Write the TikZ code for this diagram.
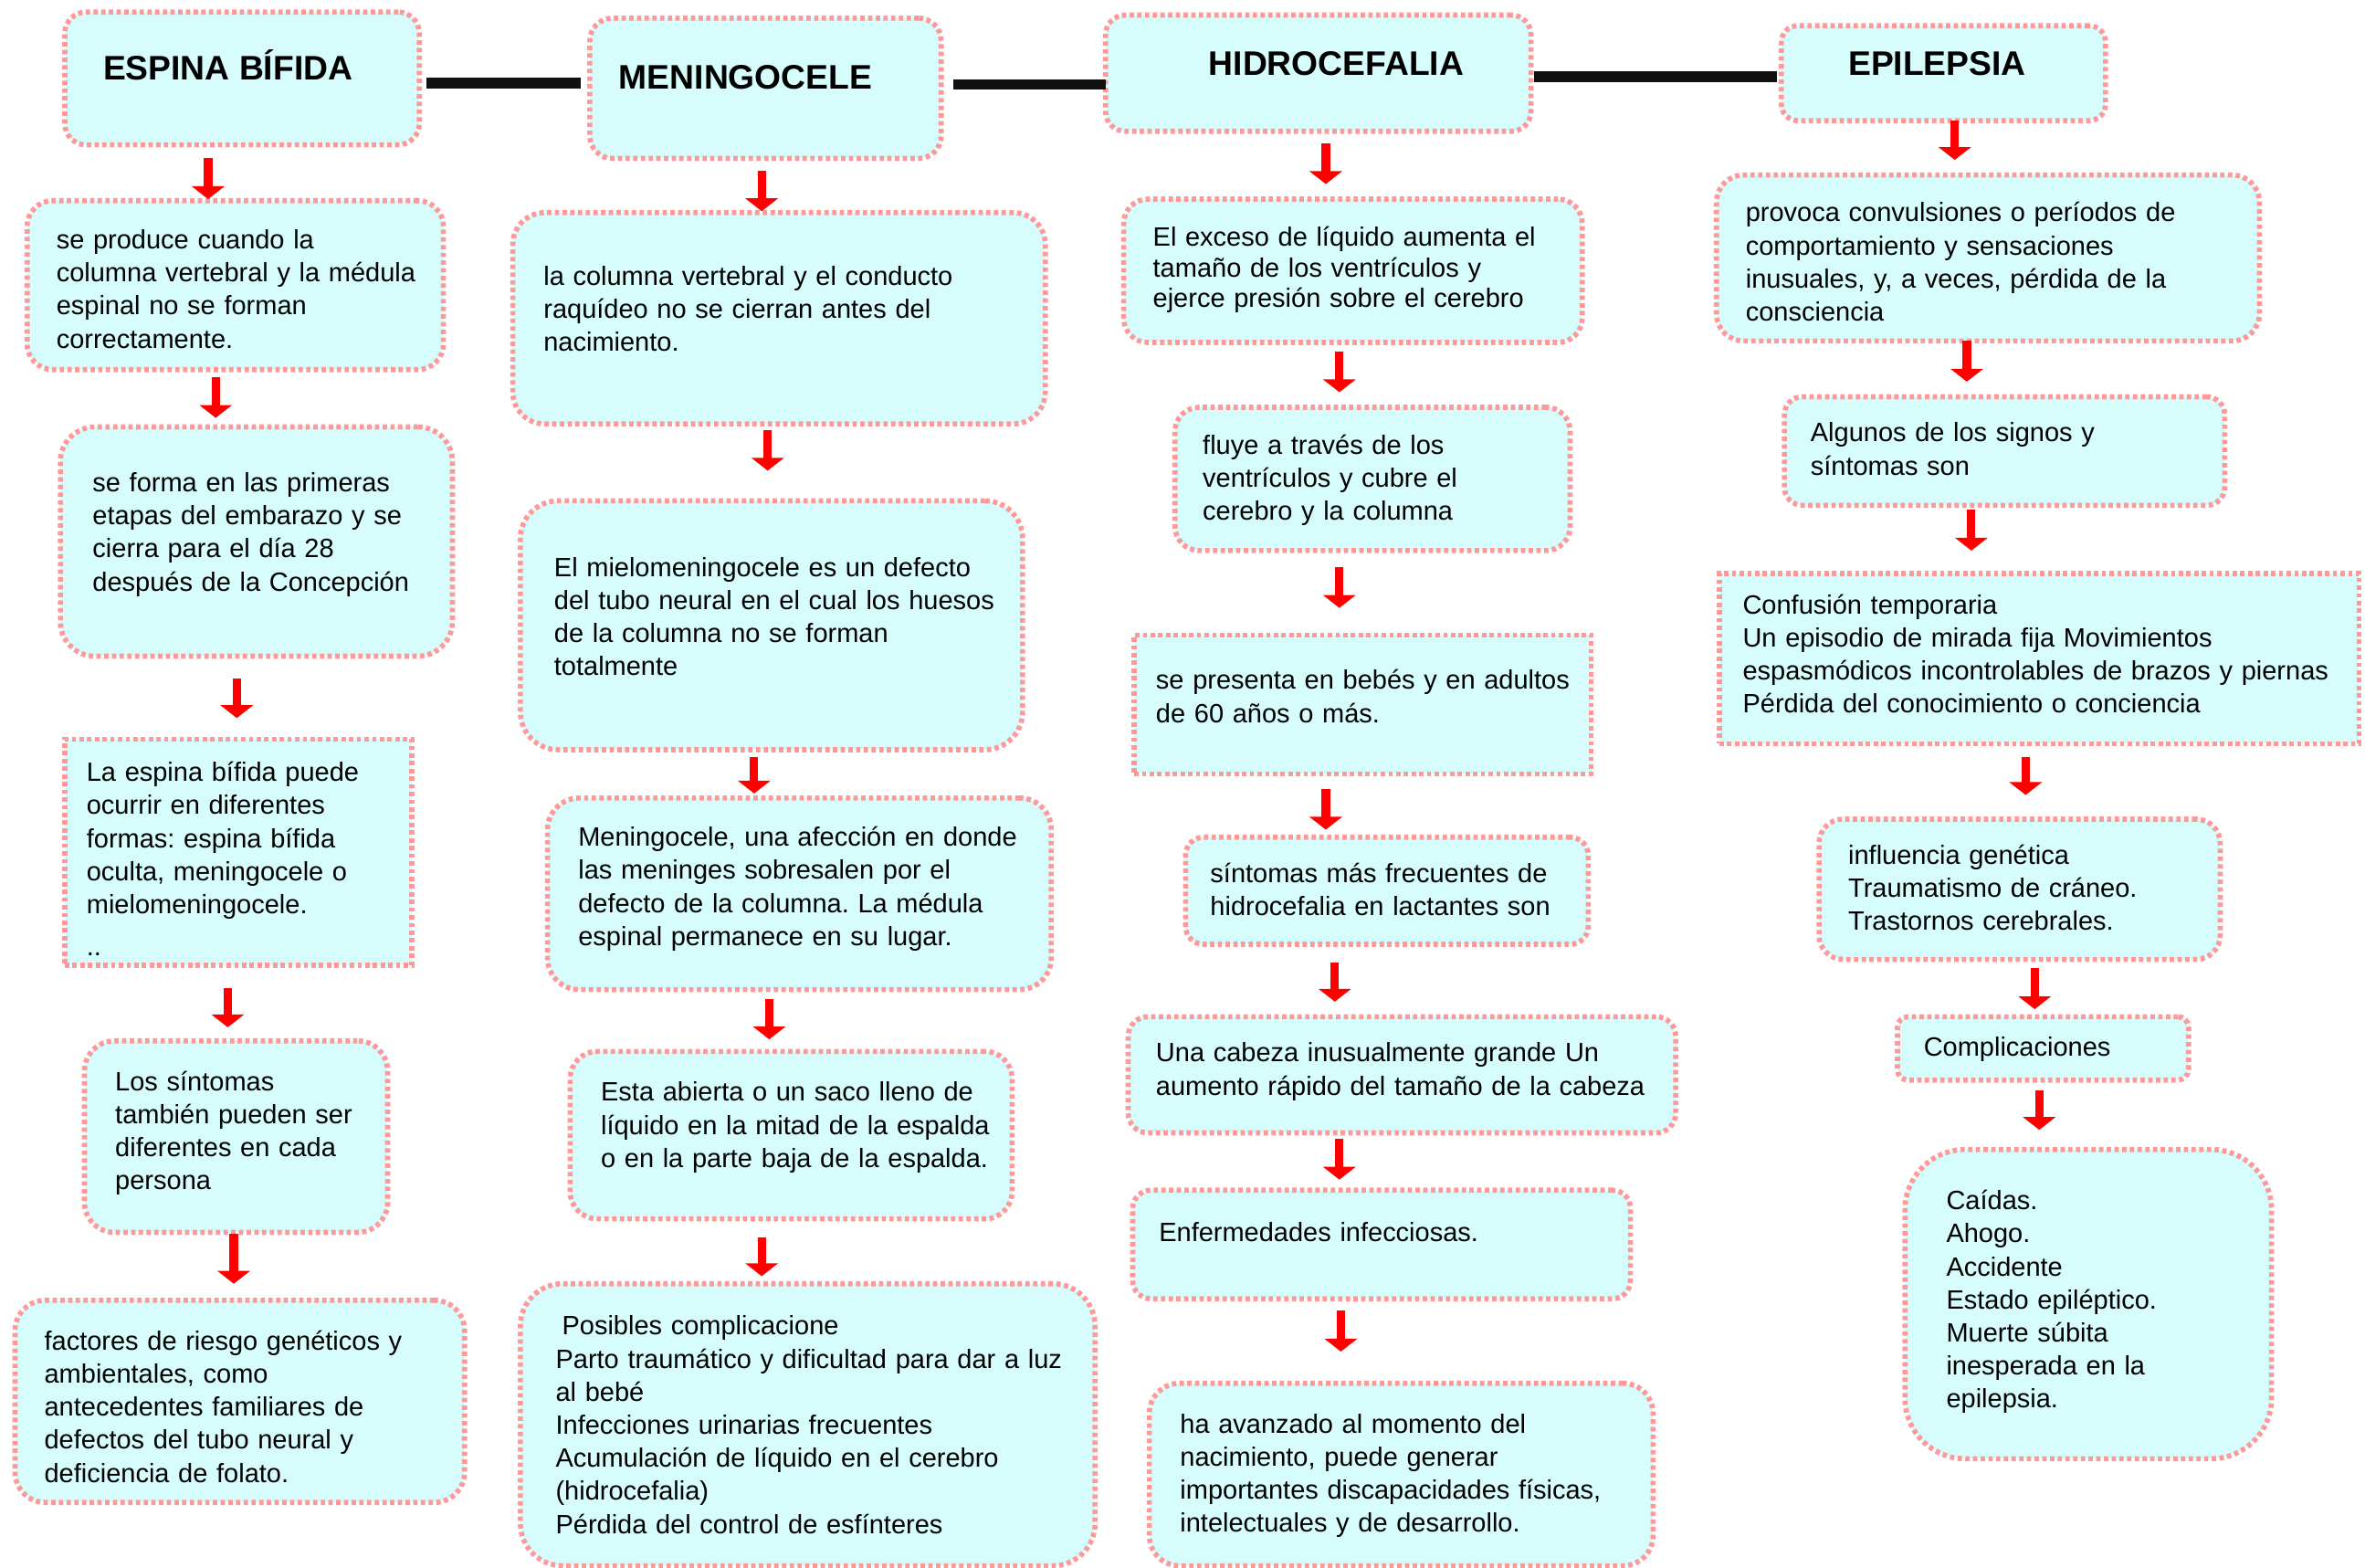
\documentclass[tikz,border=0pt]{standalone}
\usepackage{fontspec}
\setmainfont{Liberation Sans}
\usetikzlibrary{arrows.meta, positioning, calc}
\definecolor{cellFill}{RGB}{214, 252, 252}
\definecolor{cellLine}{RGB}{255, 153, 153}
\definecolor{arrowRed}{RGB}{255, 0, 0}
\definecolor{linkBlack}{RGB}{17, 17, 17}
\newdimen\px
\px=0.16518mm
\frenchspacing

\begin{document}
\begin{tikzpicture}[
        x=0.16518mm, y=-0.16518mm,
        box/.style={rectangle, draw=cellLine, fill=cellFill, line width=1.6pt, dash pattern=on 1.35pt off 1.05pt, anchor=north west, inner sep=0pt, outer sep=0pt},
        txt/.style={anchor=base west, inner sep=0pt, align=left, font=\fontsize{8.25}{10.3}\selectfont},
        head/.style={anchor=base west, inner sep=0pt, font=\bfseries\fontsize{10.6}{12}\selectfont},
        arr/.style={draw=arrowRed, line width=2.6pt, -{Triangle[width=10pt, length=4pt]}},
        link/.style={draw=linkBlack, line width=3.4pt}
    ]
        \useasboundingbox (0,0) rectangle (1568,1039);

        % Espina bifida column
        \node[box, minimum width=235\px, minimum height=88\px, rounded corners=14\px] (eb0) at (43,8) {};
        \node[head] (eb0t) at ([shift={(25,45)}]eb0.north west) {ESPINA BÍFIDA};
        \node[box, minimum width=276\px, minimum height=112\px, rounded corners=17\px] (eb1) at (18,133) {};
        \node[txt, text width=257\px] (eb1t) at ([shift={(19,32)}]eb1.north west) {se produce cuando la\\ columna vertebral y la médula\\ espinal no se forman\\ correctamente.};
        \node[box, minimum width=260\px, minimum height=152\px, rounded corners=23\px] (eb2) at (40,283) {};
        \node[txt, text width=239\px] (eb2t) at ([shift={(21,43)}]eb2.north west) {se forma en las primeras\\ etapas del embarazo y se\\ cierra para el día 28\\ después de la Concepción};
        \node[box, minimum width=230\px, minimum height=150\px] (eb3) at (43,490) {};
        \node[txt, text width=216\px] (eb3t) at ([shift={(14,28)}]eb3.north west) {La espina bífida puede\\ ocurrir en diferentes\\ formas: espina bífida\\ oculta, meningocele o\\ mielomeningocele.\\[2.8pt] ..};
        \node[box, minimum width=201\px, minimum height=127\px, rounded corners=20\px] (eb4) at (56,690) {};
        \node[txt, text width=181\px] (eb4t) at ([shift={(20,33)}]eb4.north west) {Los síntomas\\ también pueden ser\\ diferentes en cada\\ persona};
        \node[box, minimum width=298\px, minimum height=134\px, rounded corners=20\px] (eb5) at (10,862) {};
        \node[txt, text width=279\px] (eb5t) at ([shift={(19,33)}]eb5.north west) {factores de riesgo genéticos y\\ ambientales, como\\ antecedentes familiares de\\ defectos del tubo neural y\\ deficiencia de folato.};

        % Meningocele column
        \node[box, minimum width=233\px, minimum height=93\px, rounded corners=15\px] (me0) at (391,12) {};
        \node[head] (me0t) at ([shift={(19,47)}]me0.north west) {MENINGOCELE};
        \node[box, minimum width=353\px, minimum height=140\px, rounded corners=21\px] (me1) at (340,141) {};
        \node[txt, text width=333\px] (me1t) at ([shift={(20,48)}]me1.north west) {la columna vertebral y el conducto\\ raquídeo no se cierran antes del\\ nacimiento.};
        \node[box, minimum width=333\px, minimum height=165\px, rounded corners=25\px] (me2) at (345,332) {};
        \node[txt, text width=311\px] (me2t) at ([shift={(22,50)}]me2.north west) {El mielomeningocele es un defecto\\ del tubo neural en el cual los huesos\\ de la columna no se forman\\ totalmente};
        \node[box, minimum width=334\px, minimum height=127\px, rounded corners=21\px] (me3) at (363,529) {};
        \node[txt, text width=314\px] (me3t) at ([shift={(20,32)}]me3.north west) {Meningocele, una afección en donde\\ las meninges sobresalen por el\\ defecto de la columna. La médula\\ espinal permanece en su lugar.};
        \node[box, minimum width=293\px, minimum height=111\px, rounded corners=18\px] (me4) at (378,697) {};
        \node[txt, text width=273\px] (me4t) at ([shift={(20,33)}]me4.north west) {Esta abierta o un saco lleno de\\ líquido en la mitad de la espalda\\ o en la parte baja de la espalda.};
        \node[box, minimum width=381\px, minimum height=187\px, rounded corners=28\px] (me5) at (345,851) {};
        \node[txt, text width=358\px] (me5t) at ([shift={(23,34)}]me5.north west) {\hspace*{2pt}Posibles complicacione\\ Parto traumático y dificultad para dar a luz\\ al bebé\\ Infecciones urinarias frecuentes\\ Acumulación de líquido en el cerebro\\ (hidrocefalia)\\ Pérdida del control de esfínteres};

        % Hidrocefalia column
        \node[box, minimum width=282\px, minimum height=77\px, rounded corners=13\px] (hi0) at (733,10) {};
        \node[head] (hi0t) at ([shift={(68,40)}]hi0.north west) {HIDROCEFALIA};
        \node[box, minimum width=304\px, minimum height=95\px, rounded corners=16\px] (hi1) at (745,132) {};
        \node[txt, text width=285\px, font=\fontsize{8.25}{9.6}\selectfont] (hi1t) at ([shift={(19,31)}]hi1.north west) {El exceso de líquido aumenta el\\ tamaño de los ventrículos y\\ ejerce presión sobre el cerebro};
        \node[box, minimum width=262\px, minimum height=95\px, rounded corners=16\px] (hi2) at (779,270) {};
        \node[txt, text width=244\px] (hi2t) at ([shift={(18,31)}]hi2.north west) {fluye a través de los\\ ventrículos y cubre el\\ cerebro y la columna};
        \node[box, minimum width=303\px, minimum height=92\px] (hi3) at (752,421) {};
        \node[txt, text width=289\px] (hi3t) at ([shift={(14,36)}]hi3.north west) {se presenta en bebés y en adultos\\ de 60 años o más.};
        \node[box, minimum width=267\px, minimum height=71\px, rounded corners=12\px] (hi4) at (786,555) {};
        \node[txt, text width=251\px] (hi4t) at ([shift={(16,30)}]hi4.north west) {síntomas más frecuentes de\\ hidrocefalia en lactantes son};
        \node[box, minimum width=363\px, minimum height=77\px, rounded corners=13\px] (hi5) at (748,674) {};
        \node[txt, text width=345\px] (hi5t) at ([shift={(18,30)}]hi5.north west) {Una cabeza inusualmente grande Un\\ aumento rápido del tamaño de la cabeza};
        \node[box, minimum width=330\px, minimum height=72\px, rounded corners=12\px] (hi6) at (751,789) {};
        \node[txt, text width=313\px] (hi6t) at ([shift={(17,34)}]hi6.north west) {Enfermedades infecciosas.};
        \node[box, minimum width=334\px, minimum height=121\px, rounded corners=20\px] (hi7) at (762,917) {};
        \node[txt, text width=314\px] (hi7t) at ([shift={(20,33)}]hi7.north west) {ha avanzado al momento del\\ nacimiento, puede generar\\ importantes discapacidades físicas,\\ intelectuales y de desarrollo.};

        % Epilepsia column
        \node[box, minimum width=215\px, minimum height=63\px, rounded corners=11\px] (ep0) at (1181,17) {};
        \node[head] (ep0t) at ([shift={(44,33)}]ep0.north west) {EPILEPSIA};
        \node[box, minimum width=360\px, minimum height=110\px, rounded corners=18\px] (ep1) at (1138,116) {};
        \node[txt, text width=341\px] (ep1t) at ([shift={(19,31)}]ep1.north west) {provoca convulsiones o períodos de\\ comportamiento y sensaciones\\ inusuales, y, a veces, pérdida de la\\ consciencia};
        \node[box, minimum width=292\px, minimum height=72\px, rounded corners=12\px] (ep2) at (1183,263) {};
        \node[txt, text width=275\px] (ep2t) at ([shift={(17,30)}]ep2.north west) {Algunos de los signos y\\ síntomas son};
        \node[box, minimum width=424\px, minimum height=113\px] (ep3) at (1140,380) {};
        \node[txt, text width=409\px] (ep3t) at ([shift={(15,27)}]ep3.north west) {Confusión temporaria\\ Un episodio de mirada fija Movimientos\\ espasmódicos incontrolables de brazos y piernas\\ Pérdida del conocimiento o conciencia};
        \node[box, minimum width=266\px, minimum height=93\px, rounded corners=16\px] (ep4) at (1206,543) {};
        \node[txt, text width=247\px] (ep4t) at ([shift={(19,30)}]ep4.north west) {influencia genética\\ Traumatismo de cráneo.\\ Trastornos cerebrales.};
        \node[box, minimum width=193\px, minimum height=42\px, rounded corners=7\px] (ep5) at (1258,674) {};
        \node[txt, text width=176\px] (ep5t) at ([shift={(17,26)}]ep5.north west) {Complicaciones};
        \node[box, minimum width=243\px, minimum height=205\px, rounded corners=40\px] (ep6) at (1263,762) {};
        \node[txt, text width=216\px] (ep6t) at ([shift={(27,40)}]ep6.north west) {Caídas.\\ Ahogo.\\ Accidente\\ Estado epiléptico.\\ Muerte súbita\\ inesperada en la\\ epilepsia.};

        % Links between titles
        \draw[link, shorten <=5\px, shorten >=6\px] (eb0.east |- 0,55) -- (me0.west |- 0,55);
        \draw[link, shorten <=8\px] (me0.east |- 0,56) -- (hi0.west |- 0,56);
        \draw[link, shorten <=2\px, shorten >=3\px] (hi0.east |- 0,51) -- (ep0.west |- 0,51);

        % Down arrows
        \foreach \a/\b/\x/\s/\t in {eb0/eb1/138/9/1, eb1/eb2/143/5/6, eb2/eb3/157/15/14, eb3/eb4/151/15/9, eb4/eb5/155/1/11,
                me0/me1/505/8/1, me1/me2/509/4/20, me2/me3/500/5/3, me3/me4/510/6/8, me4/me5/505/12/5,
                hi0/hi1/879/8/10, hi1/hi2/888/6/10, hi2/hi3/888/11/18, hi3/hi4/879/10/5, hi4/hi5/885/12/10, hi5/hi6/888/4/7, hi6/hi7/889/8/21,
                ep0/ep1/1296/0/10, ep1/ep2/1304/0/10, ep2/ep3/1307/3/15, ep3/ep4/1343/9/16, ep4/ep5/1349/6/5, ep5/ep6/1352/7/13}
            \draw[arr, shorten <=\s\px, shorten >=\t\px] (\a.south -| \x,0) -- (\b.north -| \x,0);
    \end{tikzpicture}
\end{document}
